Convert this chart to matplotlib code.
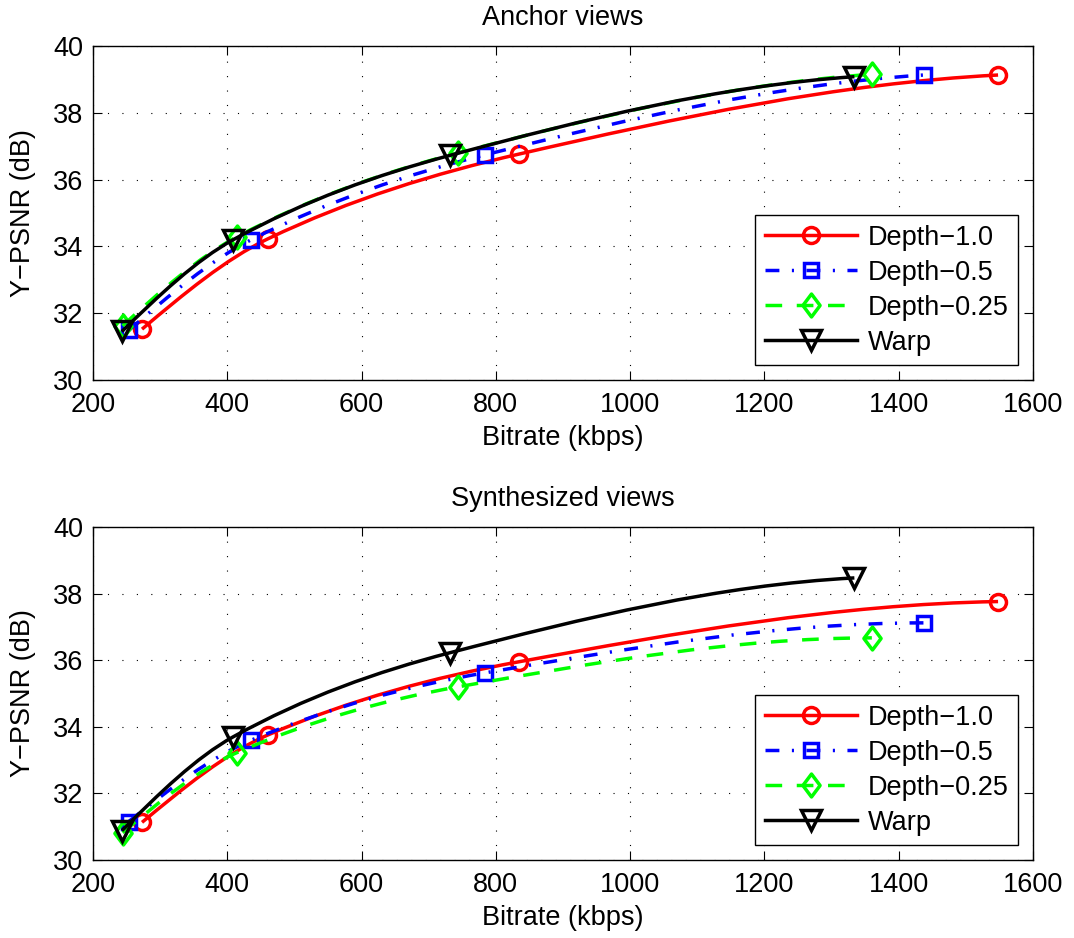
import matplotlib
matplotlib.use('Agg')
import matplotlib.pyplot as plt
import numpy as np
from matplotlib.path import Path
from matplotlib.patches import PathPatch
from matplotlib.lines import Line2D
from matplotlib.ticker import MultipleLocator

plt.rcParams.update({'font.size'        : 19.5,
                     'font.family'      : ['Liberation Sans', 'DejaVu Sans'],
                     'xtick.direction'  : 'in',
                     'ytick.direction'  : 'in',
                     'xtick.top'        : True,
                     'ytick.right'      : True,
                     'xtick.major.size' : 6.5,
                     'ytick.major.size' : 6.5,
                     'xtick.major.width': 0.8,
                     'ytick.major.width': 0.8,
                     'axes.linewidth'   : 1.0,
                    })

labels = ['Depth\u22121.0', 'Depth\u22120.5', 'Depth\u22120.25', 'Warp']

# bitrate (kbps), shared by both panels
rate_d10  = [273, 460, 834, 1548]
rate_d05  = [253, 436, 784, 1437]
rate_d025 = [244, 414, 744, 1360]
rate_warp = [243, 409, 731, 1334]

# Y-PSNR (dB), anchor views
anc_d10  = [31.52, 34.22, 36.76, 39.13]
anc_d05  = [31.48, 34.20, 36.74, 39.13]
anc_d025 = [31.62, 34.28, 36.80, 39.15]
anc_warp = [31.45, 34.20, 36.72, 39.08]

# Y-PSNR (dB), synthesized views
syn_d10  = [31.13, 33.75, 35.95, 37.76]
syn_d05  = [31.15, 33.60, 35.62, 37.12]
syn_d025 = [30.82, 33.22, 35.20, 36.67]
syn_warp = [30.88, 33.70, 36.22, 38.47]

rates = [rate_d10, rate_d05, rate_d025, rate_warp]
anchor = [anc_d10, anc_d05, anc_d025, anc_warp]
synth = [syn_d10, syn_d05, syn_d025, syn_warp]

colors = ['#ff0000', '#0000ff', '#00ff00', 'k']
styles = ['-', (0, (4, 3.6, 0.6, 3.6)), (0, (4.8, 4.2)), '-']
diamond = Path([(0, 1), (0.75, 0), (0, -1), (-0.75, 0), (0, 1)],
               [Path.MOVETO, Path.LINETO, Path.LINETO, Path.LINETO, Path.CLOSEPOLY])
markers = ['o', 's', diamond, 'v']
msizes = [11.5, 10.5, 16.5, 15]
lw = 2.5


def pchip_slopes(x, y):
    # shape-preserving tangents (like matlab pchip)
    h = np.diff(x)
    d = np.diff(y) / h
    m = np.zeros(len(x))
    for k in range(1, len(x)-1):
        if d[k-1]*d[k] > 0:
            w1 = 2*h[k] + h[k-1]
            w2 = h[k] + 2*h[k-1]
            m[k] = (w1 + w2) / (w1/d[k-1] + w2/d[k])
    m[0] = ((2*h[0] + h[1])*d[0] - h[0]*d[1]) / (h[0] + h[1])
    if np.sign(m[0]) != np.sign(d[0]):
        m[0] = 0
    m[-1] = ((2*h[-1] + h[-2])*d[-1] - h[-1]*d[-2]) / (h[-1] + h[-2])
    if np.sign(m[-1]) != np.sign(d[-1]):
        m[-1] = 0
    return m


def smooth_path(x, y):
    # bezier segments through the measured points
    x = np.asarray(x, float)
    y = np.asarray(y, float)
    m = pchip_slopes(x, y)
    verts = [(x[0], y[0])]
    codes = [Path.MOVETO]
    for k in range(len(x)-1):
        h = x[k+1] - x[k]
        verts += [(x[k] + h/3, y[k] + m[k]*h/3),
                  (x[k+1] - h/3, y[k+1] - m[k+1]*h/3),
                  (x[k+1], y[k+1])]
        codes += [Path.CURVE4]*3
    return Path(verts, codes)


def panel(ax, psnr, title):
    for i in range(4):
        z = 2 + i*0.1
        ax.add_patch(PathPatch(smooth_path(rates[i], psnr[i]), fill=False,
                               edgecolor=colors[i], lw=lw, linestyle=styles[i],
                               capstyle='butt', zorder=z))
        ax.plot(rates[i], psnr[i], ls='none', marker=markers[i], ms=msizes[i],
                mec=colors[i], mfc='none', mew=2.5, zorder=z+0.05)
    handles = [Line2D([], [], color=colors[i], ls=styles[i], lw=lw,
                      marker=markers[i], ms=msizes[i], mfc='none', mew=2.5)
               for i in range(4)]
    leg = ax.legend(handles, labels, loc='lower right', fancybox=False,
                    framealpha=1, edgecolor='k', handlelength=3.4,
                    handletextpad=0.4, labelspacing=0.33, borderpad=0.35,
                    borderaxespad=0.55)
    leg.get_frame().set_linewidth(1.0)
    ax.set_xlim(200, 1600)
    ax.set_ylim(30, 40)
    ax.xaxis.set_major_locator(MultipleLocator(200))
    ax.yaxis.set_major_locator(MultipleLocator(2))
    ax.grid(True, color='k', linestyle=(0, (1, 12)), linewidth=0.8)
    ax.tick_params(axis='x', pad=9)
    ax.tick_params(axis='y', pad=7)
    ax.set_xlabel('Bitrate (kbps)', labelpad=5)
    ax.set_ylabel('Y\u2212PSNR (dB)', labelpad=12)
    ax.set_title(title, fontsize=19.5, pad=15)


fig = plt.figure(figsize=(10.74, 9.38), dpi=100)
ax1 = fig.add_axes([0.0866, 0.595, 0.8752, 0.356])
ax2 = fig.add_axes([0.0866, 0.0832, 0.8752, 0.355])
panel(ax1, anchor, 'Anchor views')
panel(ax2, synth, 'Synthesized views')
fig.savefig('out.png', dpi=100)
